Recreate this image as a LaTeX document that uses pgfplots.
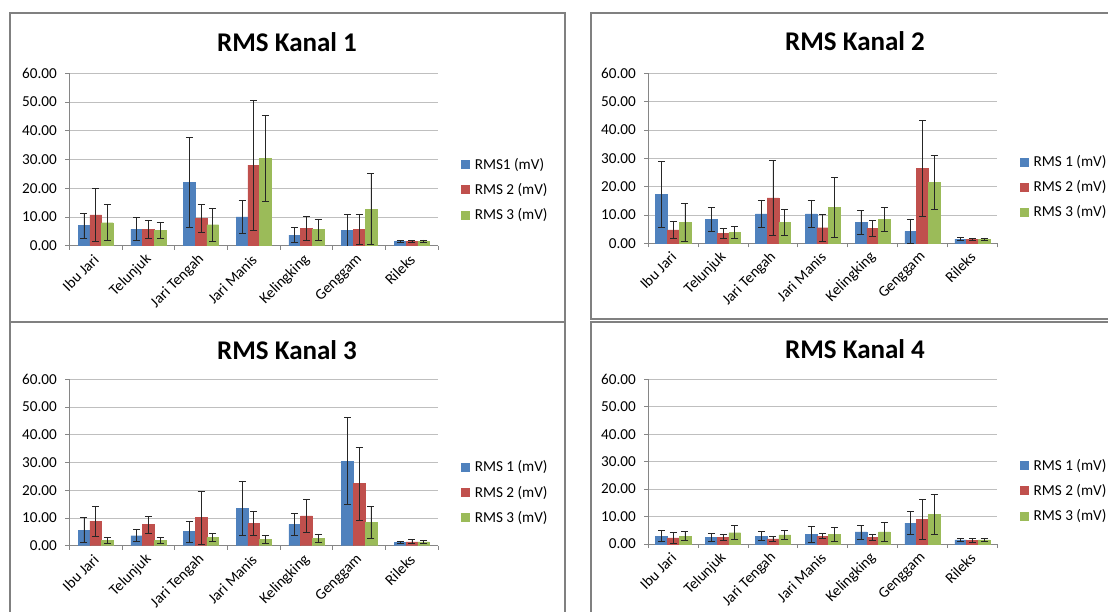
\documentclass[border=0pt]{standalone}
\usepackage{pgfplots}
\usepackage{pgfplotstable}
\pgfplotsset{compat=1.18}
\usepackage{fontspec}
\setmainfont{Carlito}
\definecolor{cblue}{HTML}{4F81BD}
\definecolor{cred}{HTML}{C0504D}
\definecolor{cgreen}{HTML}{9BBB59}
\definecolor{gridc}{HTML}{BFBFBF}
\definecolor{axc}{HTML}{868686}
\definecolor{errc}{HTML}{262626}
\definecolor{boxc}{HTML}{808080}

\pgfplotstableread{
x b be r re g ge
0 7.0 4.4 10.7 9.3 8.0 6.3
1 5.8 4.0 5.6 3.1 5.3 2.65
2 22.1 15.6 9.6 4.8 7.3 5.7
3 10.0 5.8 28.0 22.6 30.4 14.9
4 3.7 2.5 6.0 4.2 5.6 3.6
5 5.3 5.6 5.6 5.3 12.7 12.4
6 1.5 0.4 1.5 0.4 1.5 0.5
}\kanalA

\pgfplotstableread{
x b be r re g ge
0 17.2 11.6 4.7 2.9 7.4 6.7
1 8.5 4.3 3.5 1.9 3.8 2.2
2 10.4 4.9 16.0 13.3 7.4 4.7
3 10.4 4.9 5.5 4.8 12.7 10.5
4 7.4 4.3 5.3 2.8 8.4 4.3
5 4.2 4.3 26.5 16.9 21.6 9.5
6 1.5 0.6 1.4 0.3 1.5 0.4
}\kanalB

\pgfplotstableread{
x b be r re g ge
0 5.65 4.5 8.9 5.4 2.0 1.0
1 3.6 2.2 7.6 3.0 2.0 1.0
2 5.05 3.85 10.1 9.6 2.9 1.5
3 13.5 9.85 8.05 4.4 2.3 1.35
4 7.7 4.05 10.8 6.0 2.65 1.6
5 30.5 15.6 22.4 13.1 8.4 5.7
6 1.3 0.4 1.4 0.7 1.4 0.4
}\kanalC

\pgfplotstableread{
x b be r re g ge
0 2.9 2.1 2.2 1.9 2.9 1.6
1 2.3 1.5 2.3 1.1 4.1 2.55
2 2.9 1.7 1.9 0.85 3.3 1.8
3 3.6 2.85 2.9 1.0 3.5 2.7
4 4.4 2.55 2.55 1.1 4.4 3.5
5 7.65 4.3 8.9 7.4 10.8 7.35
6 1.5 0.5 1.3 0.6 1.5 0.6
}\kanalD

\newcommand{\tickfont}{\fontsize{15.2}{18}\selectfont}
\newcommand{\titlefont}{\fontsize{27}{32}\selectfont\bfseries}

\pgfplotsset{
  rmsstyle/.style={
    scale only axis,
    ybar=0pt, bar width=11.7pt,
    ymin=0, ymax=60, ytick={0,10,...,60},
    xmin=-0.5, xmax=6.5,
    xtick={0,...,6},
    xticklabels={Ibu Jari,Telunjuk,Jari Tengah,Jari Manis,Kelingking,Genggam,Rileks},
    major x tick style={draw=none},
    extra x ticks={-0.5,0.5,...,6.5},
    extra x tick labels={},
    extra x tick style={grid=none, major x tick style={draw=axc, line width=0.8pt}},
    axis x line*=bottom, axis y line*=left,
    axis line style={axc, line width=0.8pt},
    ymajorgrids, grid style={gridc, line width=0.8pt},
    major tick length=4pt, tick align=outside,
    ytick style={axc, line width=0.8pt},
    /pgf/number format/assume math mode=true,
    y tick label style={/pgf/number format/fixed, /pgf/number format/fixed zerofill,
      /pgf/number format/precision=2, font=\tickfont, xshift=-5pt},
    x tick label style={font=\tickfont, xshift=3pt, yshift=-5pt, rotate=45, anchor=east},
    error bars/y dir=both, error bars/y explicit,
    error bars/error bar style={errc, line width=0.8pt},
    error bars/error mark options={errc, line width=0.8pt, mark size=3.5pt, rotate=90},
    legend style={draw=none, fill=none, anchor=west, font=\tickfont,
      inner sep=0pt, row sep=8.5pt, nodes={inner sep=2pt},
      /tikz/every odd column/.append style={column sep=3pt}},
    legend cell align=left,
    legend image code/.code={\fill[##1] (0pt,-4pt) rectangle (8pt,4pt);},
  },
}

\begin{document}
\begin{tikzpicture}[x=1pt,y=1pt]
\useasboundingbox (0,0) rectangle (1108,611);
\clip (0,0) rectangle (1108,611);

% panel borders
\draw[boxc, line width=1.4pt] (10,289) rectangle (565,598);
\draw[boxc, line width=1.4pt] (591,292) rectangle (1120,598);
\draw[boxc, line width=1.4pt] (10,-10) rectangle (565,289);
\draw[boxc, line width=1.4pt] (591,-10) rectangle (1120,289);

% titles
\node at (287,569) {\titlefont RMS Kanal 1};
\node at (855,570) {\titlefont RMS Kanal 2};
\node at (287,261) {\titlefont RMS Kanal 3};
\node at (855,262) {\titlefont RMS Kanal 4};

\begin{axis}[rmsstyle, at={(69.3pt,365.3pt)}, anchor=south west,
  width=369pt, height=172.4pt,
  legend style={at={(1.062,0.325)}}]
\addplot[fill=cblue, draw=cblue] table[x=x,y=b,y error=be]{\kanalA};
\addplot[fill=cred, draw=cred] table[x=x,y=r,y error=re]{\kanalA};
\addplot[fill=cgreen, draw=cgreen] table[x=x,y=g,y error=ge]{\kanalA};
\legend{RMS1 (mV),RMS 2 (mV),RMS 3 (mV)}
\end{axis}

\begin{axis}[rmsstyle, at={(648.3pt,367.7pt)}, anchor=south west,
  width=349pt, height=170pt,
  legend style={at={(1.065,0.331)}}]
\addplot[fill=cblue, draw=cblue] table[x=x,y=b,y error=be]{\kanalB};
\addplot[fill=cred, draw=cred] table[x=x,y=r,y error=re]{\kanalB};
\addplot[fill=cgreen, draw=cgreen] table[x=x,y=g,y error=ge]{\kanalB};
\legend{RMS 1 (mV),RMS 2 (mV),RMS 3 (mV)}
\end{axis}

\begin{axis}[rmsstyle, at={(69.3pt,65.3pt)}, anchor=south west,
  width=369pt, height=166.4pt,
  legend style={at={(1.062,0.321)}}]
\addplot[fill=cblue, draw=cblue] table[x=x,y=b,y error=be]{\kanalC};
\addplot[fill=cred, draw=cred] table[x=x,y=r,y error=re]{\kanalC};
\addplot[fill=cgreen, draw=cgreen] table[x=x,y=g,y error=ge]{\kanalC};
\legend{RMS 1 (mV),RMS 2 (mV),RMS 3 (mV)}
\end{axis}

\begin{axis}[rmsstyle, at={(648.3pt,67pt)}, anchor=south west,
  width=349pt, height=164.7pt,
  legend style={at={(1.065,0.324)}}]
\addplot[fill=cblue, draw=cblue] table[x=x,y=b,y error=be]{\kanalD};
\addplot[fill=cred, draw=cred] table[x=x,y=r,y error=re]{\kanalD};
\addplot[fill=cgreen, draw=cgreen] table[x=x,y=g,y error=ge]{\kanalD};
\legend{RMS 1 (mV),RMS 2 (mV),RMS 3 (mV)}
\end{axis}
\end{tikzpicture}
\end{document}
